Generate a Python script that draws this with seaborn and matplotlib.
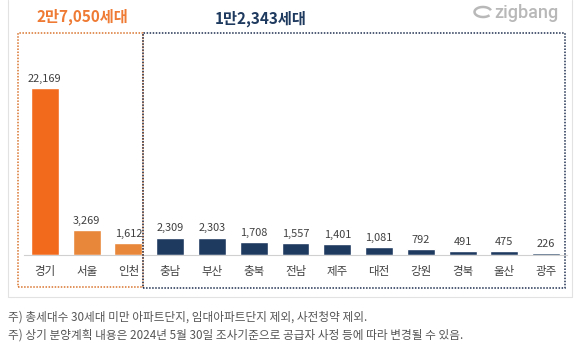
import matplotlib
matplotlib.use("Agg")
import matplotlib.pyplot as plt
import seaborn as sns
import pandas as pd
from matplotlib.patches import Rectangle, Arc
from matplotlib.lines import Line2D

regions = ["경기", "서울", "인천", "충남", "부산", "충북", "전남", "제주", "대전", "강원", "경북", "울산", "광주"]
values = [22169, 3269, 1612, 2309, 2303, 1708, 1557, 1401, 1081, 792, 491, 475, 226]
groups = ["경기", "서울인천", "서울인천", "지방", "지방", "지방", "지방", "지방", "지방", "지방", "지방", "지방", "지방"]
group_totals = ["2만7,050세대", "1만2,343세대"]
notes = ["주) 총세대수 30세대 미만 아파트단지, 임대아파트단지 제외, 사전청약 제외.",
         "주) 상기 분양계획 내용은 2024년 5월 30일 조사기준으로 공급자 사정 등에 따라 변경될 수 있음."]

palette = {"경기": "#F26B1D", "서울인천": "#E8873A", "지방": "#1F3A5F"}

sns.set_theme(style="white")
plt.rcParams['font.family'] = ['Noto Sans CJK KR', 'DejaVu Sans']

W, H = 580, 348
fig = plt.figure(figsize=(W / 100, H / 100), dpi=100)
fig.patch.set_facecolor("white")

def fx(x):
    return x / W

def fy(y):
    return 1 - y / H

ax = fig.add_axes([fx(24), fy(255), fx(567) - fx(24), fy(40) - fy(255)])
df = pd.DataFrame({"region": regions, "value": values, "group": groups})
sns.barplot(data=df, x="region", y="value", hue="group", palette=palette,
            dodge=False, width=0.67, legend=False, ax=ax, saturation=1)
ax.set_xlim(-0.5, len(regions) - 0.5)
ax.set_ylim(0, 28540)
for c in ax.containers:
    ax.bar_label(c, labels=[f"{v:,.0f}" for v in c.datavalues], padding=3,
                 fontsize=7.9, color="#404040")
ax.set_xlabel("")
ax.set_ylabel("")
ax.set_yticks([])
ax.tick_params(axis="x", length=0, pad=7, labelsize=8.3, labelcolor="#404040")
for s in ["top", "right", "left"]:
    ax.spines[s].set_visible(False)
ax.spines["bottom"].set_color("#d0d0d0")
ax.spines["bottom"].set_linewidth(0.8)
ax.patch.set_alpha(0)

# dotted group boxes
fig.patches.append(Rectangle((fx(18), fy(287)), fx(143) - fx(18), fy(33) - fy(287),
                             transform=fig.transFigure, fill=False, ec="#D9742E",
                             ls=(0, (1, 1)), lw=1.1, zorder=5))
fig.patches.append(Rectangle((fx(143), fy(288)), fx(565) - fx(143), fy(33) - fy(288),
                             transform=fig.transFigure, fill=False, ec="#1F2F4F",
                             ls=(0, (1, 1)), lw=1.1, zorder=5))

fig.text(fx(82), fy(17), group_totals[0], color="#EE7A33", fontsize=11,
         fontweight="bold", ha="center", va="center")
fig.text(fx(261), fy(19), group_totals[1], color="#1F3A5F", fontsize=11,
         fontweight="bold", ha="center", va="center")

# outer light frame
for xs, ys in [([8, 8], [0, 297]), ([8, 572], [297, 297]), ([572, 572], [0, 297])]:
    fig.add_artist(Line2D([fx(x) for x in xs], [fy(y) for y in ys],
                          transform=fig.transFigure, color="#e2e2e2", lw=0.8))

# zigbang logo
fig.text(fx(494), fy(13), "zigbang", color="#b8b8b8", fontsize=13,
         fontweight="medium", ha="left", va="center", family=["Roboto", "DejaVu Sans"])
fig.add_artist(Arc((fx(483), fy(12)), fx(17), fx(10) * W / H, angle=-20,
                   theta1=40, theta2=340, transform=fig.transFigure,
                   color="#b8b8b8", lw=1.8))

fig.text(fx(8), fy(317), notes[0], color="#555555", fontsize=8.4, ha="left", va="center")
fig.text(fx(8), fy(335), notes[1], color="#555555", fontsize=8.4, ha="left", va="center")

fig.savefig("out.png", dpi=100)
